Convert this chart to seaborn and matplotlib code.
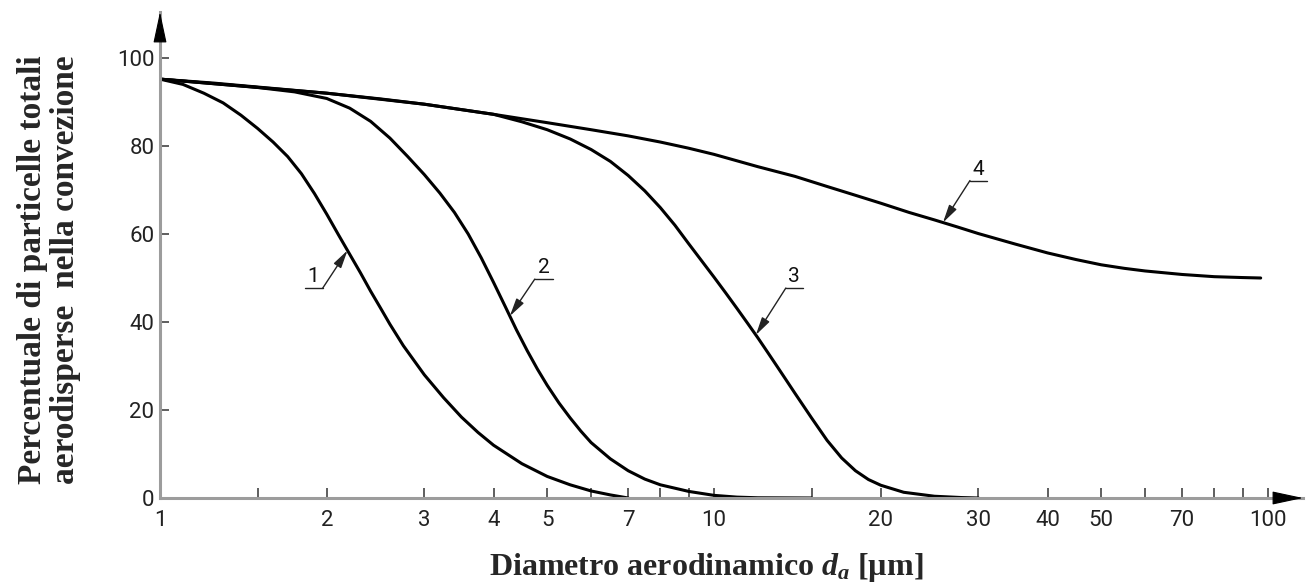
import numpy as np
import pandas as pd
import matplotlib
matplotlib.use("Agg")
import matplotlib.pyplot as plt
import seaborn as sns
from matplotlib.transforms import IdentityTransform
from matplotlib.lines import Line2D
from matplotlib.ticker import NullLocator
from matplotlib import font_manager

# ---------------- data ----------------
c1_d = [1.0, 1.1, 1.2, 1.3, 1.4, 1.5, 1.6, 1.7, 1.8, 1.9, 2.0, 2.1, 2.2, 2.3, 2.4, 2.5, 2.6,
        2.75, 3.0, 3.25, 3.5, 3.75, 4.0, 4.5, 5.0, 5.5, 6.0, 6.5, 7.0]
c1_p = [95.2, 94.0, 92.0, 89.8, 87.0, 84.0, 80.9, 77.6, 73.7, 69.2, 64.5, 59.8, 55.4, 51.2,
        47.0, 43.2, 39.5, 34.6, 28.0, 22.8, 18.4, 14.9, 12.0, 7.8, 4.9, 3.0, 1.6, 0.7, 0.0]

c2_d = [1.0, 1.5, 1.75, 2.0, 2.2, 2.4, 2.6, 2.8, 3.0, 3.2, 3.4, 3.6, 3.8, 4.0, 4.2, 4.4, 4.6,
        4.8, 5.0, 5.25, 5.5, 5.75, 6.0, 6.5, 7.0, 7.5, 8.0, 9.0, 10.0, 11.0, 12.0, 15.0]
c2_p = [95.2, 93.3, 92.3, 90.8, 88.6, 85.6, 81.8, 77.6, 73.5, 69.3, 64.9, 60.0, 54.6, 49.0,
        43.5, 38.2, 33.5, 29.3, 25.6, 21.6, 18.2, 15.2, 12.6, 8.9, 6.2, 4.3, 3.0, 1.5, 0.6,
        0.2, 0.05, 0.0]

c3_d = [1.0, 2.0, 3.0, 4.0, 4.5, 5.0, 5.5, 6.0, 6.5, 7.0, 7.5, 8.0, 8.5, 9.0, 9.5, 10.0, 10.5,
        11.0, 11.5, 12.0, 12.5, 13.0, 13.5, 14.0, 15.0, 16.0, 17.0, 18.0, 19.0, 20.0, 22.0,
        25.0, 28.0, 30.0]
c3_p = [95.2, 92.0, 89.5, 87.2, 85.5, 83.7, 81.6, 79.2, 76.5, 73.3, 69.8, 66.0, 62.0, 57.8,
        53.9, 50.2, 46.6, 43.1, 39.7, 36.4, 33.1, 29.9, 26.8, 23.8, 18.2, 13.1, 9.1, 6.2, 4.2,
        2.9, 1.3, 0.4, 0.1, 0.0]

c4_d = [1.0, 1.25, 1.5, 2.0, 2.5, 3.0, 4.0, 5.0, 6.0, 7.0, 8.0, 9.0, 10.0, 12.0, 14.0, 16.0,
        18.0, 20.0, 22.5, 25.0, 27.5, 30.0, 35.0, 40.0, 45.0, 50.0, 55.0, 60.0, 70.0, 80.0,
        90.0, 97.0]
c4_p = [95.2, 94.3, 93.4, 92.0, 90.7, 89.5, 87.2, 85.3, 83.7, 82.3, 80.9, 79.5, 78.1, 75.3,
        73.1, 70.8, 68.8, 67.0, 64.9, 63.2, 61.6, 60.1, 57.7, 55.7, 54.2, 53.0, 52.2, 51.6,
        50.8, 50.3, 50.1, 50.0]

curve_names = ["1", "2", "3", "4"]
label_d = [2.18, 4.28, 11.9, 25.9]   # where each numbered leader points

x_ticks = [1, 1.5, 2, 3, 4, 5, 6, 7, 8, 9, 10, 15, 20, 30, 40, 50, 60, 70, 80, 90, 100]
x_ticklabels = ["1", "", "2", "3", "4", "5", "", "7", "", "", "10", "", "20", "30", "40", "50",
                "", "70", "", "", "100"]
y_ticks = [0, 20, 40, 60, 80, 100]
y_ticklabels = ["0", "20", "40", "60", "80", "100"]

xlabel_text = "Diametro aerodinamico $d_a$ [µm]"
ylabel_text = "Percentuale di particelle totali\naerodisperse  nella convezione"

# ---------------- style ----------------
sns.set_style("white")
available = {f.name for f in font_manager.fontManager.ttflist}
if "Liberation Sans Narrow" in available:
    tick_font = "Liberation Sans Narrow"
elif "Roboto" in available:
    tick_font = "Roboto"
else:
    tick_font = "DejaVu Sans"
plt.rcParams["font.family"] = [tick_font, "DejaVu Sans"]
plt.rcParams["mathtext.fontset"] = "custom"
plt.rcParams["mathtext.it"] = "Liberation Serif:italic:bold"
plt.rcParams["mathtext.rm"] = "Liberation Serif:bold"
plt.rcParams["mathtext.bf"] = "Liberation Serif:bold"

W, H = 1306, 588
fig = plt.figure(figsize=(W / 100, H / 100), dpi=100)
fig.patch.set_facecolor("white")
ax = fig.add_axes([160 / W, 90 / H, 1143 / W, 486 / H])
ax.set_facecolor("white")

curves_d = [c1_d, c2_d, c3_d, c4_d]
curves_p = [c1_p, c2_p, c3_p, c4_p]
df = pd.concat([pd.DataFrame({"d": d, "p": p, "curve": n})
                for d, p, n in zip(curves_d, curves_p, curve_names)], ignore_index=True)

sns.lineplot(data=df, x="d", y="p", units="curve", estimator=None, sort=False,
             color="black", linewidth=2.2, ax=ax, legend=False)

ax.set_xscale("log")
ax.set_xlim(1, 10 ** (1143 / 554))
ax.set_ylim(0, 486 / 4.4)
ax.set_xlabel("")
ax.set_ylabel("")

for s in ["top", "right"]:
    ax.spines[s].set_visible(False)
for s in ["left", "bottom"]:
    ax.spines[s].set_color("#9c9c9c")
    ax.spines[s].set_linewidth(2.2)

ax.set_xticks(x_ticks)
ax.set_xticklabels(x_ticklabels)
ax.xaxis.set_minor_locator(NullLocator())
ax.yaxis.set_minor_locator(NullLocator())
ax.set_yticks(y_ticks)
ax.set_yticklabels(y_ticklabels)
ax.tick_params(axis="both", which="major", direction="in", bottom=True, left=True,
               top=False, right=False, width=1.1, color="#333333", labelsize=16,
               labelcolor="#222222")
ax.tick_params(axis="x", length=7, pad=9)
ax.tick_params(axis="y", length=6.5, pad=4)
ax.grid(False)

# axis arrowheads
arrow_kw = dict(arrowstyle="-|>,head_length=1.4,head_width=0.3", mutation_scale=14,
                color="black", lw=0.8, shrinkA=0, shrinkB=0)
ax.annotate("", xy=(1, 0), xycoords="axes fraction", xytext=(-24, 0),
            textcoords="offset pixels", arrowprops=arrow_kw, annotation_clip=False)
ax.annotate("", xy=(0, 1), xycoords="axes fraction", xytext=(0, -24),
            textcoords="offset pixels", arrowprops=arrow_kw, annotation_clip=False)

# numbered leaders (offsets in pixels from the pointed spot: dx, dy, underline length)
leader_offsets = [(-25, -38, -18), (25, 37, 18), (30, 47, 17), (27, 42, 17)]
for name, xd, cd, cp, (dx, dy, ux) in zip(curve_names, label_d, curves_d, curves_p, leader_offsets):
    yv = float(np.interp(np.log10(xd), np.log10(cd), cp))
    px, py = ax.transData.transform((xd, yv))
    sx, sy = px + dx, py + dy
    ax.annotate("", xy=(xd, yv), xytext=(dx, dy), textcoords="offset pixels",
                arrowprops=dict(arrowstyle="-|>,head_length=0.9,head_width=0.22",
                                mutation_scale=12, color="#222222", lw=1.0,
                                shrinkA=0, shrinkB=0))
    fig.add_artist(Line2D([sx, sx + ux], [sy, sy], transform=IdentityTransform(),
                          color="#222222", lw=1.0))
    fig.text(sx + ux / 2, sy + 2, name, transform=IdentityTransform(), ha="center",
             va="bottom", fontsize=15, color="#111111")

# axis titles
fig.text(706 / W, 1 - 567 / H, xlabel_text, ha="center", va="center",
         fontsize=23, fontweight="bold", family=["Liberation Serif", "DejaVu Serif"])
fig.text(49 / W, 1 - 270 / H, ylabel_text, ha="center", va="center", rotation=90,
         multialignment="center", linespacing=1.1,
         fontsize=24, fontweight="bold", family=["Liberation Serif", "DejaVu Serif"])

fig.savefig("out.png", dpi=100, facecolor="white")
